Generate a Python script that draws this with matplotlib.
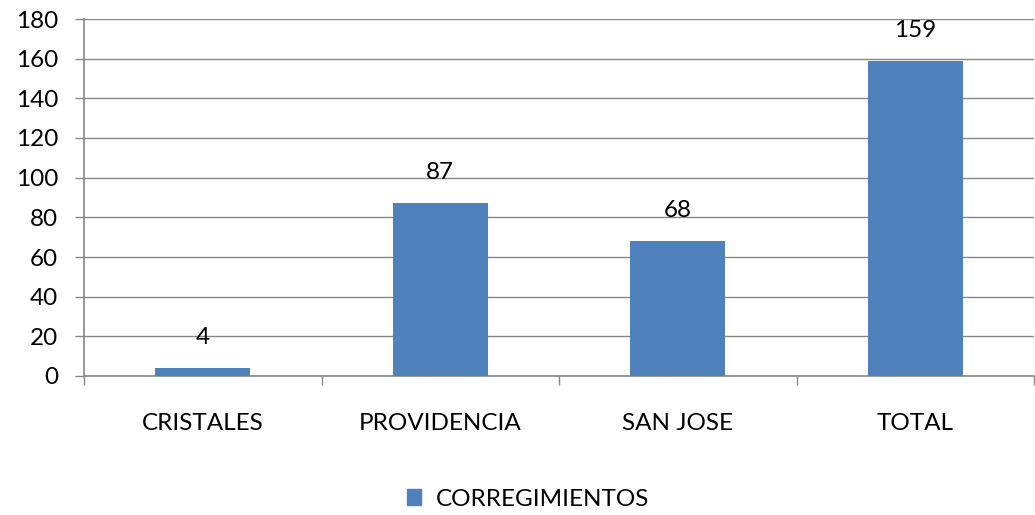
import matplotlib
matplotlib.use("Agg")
import matplotlib.pyplot as plt
from matplotlib.patches import Patch
import numpy as np

categories = ["CRISTALES", "PROVIDENCIA", "SAN JOSE", "TOTAL"]
values = [4, 87, 68, 159]
yticks = [0, 20, 40, 60, 80, 100, 120, 140, 160, 180]
series_name = "CORREGIMIENTOS"

plt.rcParams['font.family'] = ['Lato', 'DejaVu Sans']
W, H = 1035, 515
fig = plt.figure(figsize=(W/100, H/100), dpi=100)
ax = fig.add_axes([84/W, (H-376)/H, 950/W, (376-19)/H])

color = "#4F81BD"
grid = "#868686"
x = np.arange(len(categories))
bars = ax.bar(x, values, width=0.4, color=color, zorder=3)

ax.set_xlim(-0.5, len(categories)-0.5)
ax.set_ylim(0, 180)
ax.set_yticks(yticks)
ax.yaxis.grid(True, color=grid, linewidth=1.0, zorder=0)
ax.set_axisbelow(True)

for s in ["top", "right"]:
    ax.spines[s].set_visible(False)
for s in ["left", "bottom"]:
    ax.spines[s].set_color(grid)
    ax.spines[s].set_linewidth(1.2)

fs = 17.5
ax.set_xticks(x)
ax.set_xticklabels(categories)
ax.set_xticks(np.arange(len(categories)+1)-0.5, minor=True)
ax.tick_params(axis='x', which='major', length=0, pad=27, labelsize=fs)
ax.tick_params(axis='x', which='minor', length=6.5, color=grid, width=1)
ax.tick_params(axis='y', length=6.5, color=grid, width=1, pad=12, labelsize=fs)

for xi, v in zip(x, values):
    ax.annotate(str(v), (xi, v), xytext=(0, 22), textcoords='offset points',
                ha='center', va='center', fontsize=fs)

fig.legend(handles=[Patch(color=color)], labels=[series_name], loc='center',
           bbox_to_anchor=(528/W, (H-499)/H), frameon=False, fontsize=fs,
           handlelength=0.6, handleheight=0.6, handletextpad=0.6)

fig.savefig("out.png", dpi=100)
